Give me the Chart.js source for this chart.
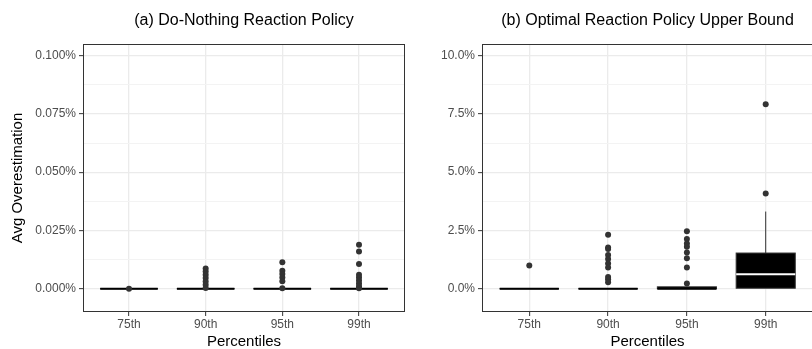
<!DOCTYPE html>
<html><head><meta charset="utf-8">
<script src="https://cdn.jsdelivr.net/npm/chart.js@4.4.1/dist/chart.umd.min.js"></script>
<style>
html,body{margin:0;padding:0;background:#fff;}
#wrap{position:relative;width:812px;height:349px;overflow:hidden;background:#fff;}
canvas{position:absolute;top:0;}
#c1{left:0;width:412px;height:349px;}
#c2{left:412px;width:404px;height:349px;}
</style></head><body>
<div id="wrap"><canvas id="c1" width="412" height="349"></canvas><canvas id="c2" width="404" height="349"></canvas></div>
<script>
// ---- data ----
const categories = ['75th', '90th', '95th', '99th'];

// Panel (a): values in percent
const titleA = '(a) Do-Nothing Reaction Policy';
const ticksA = [0, 0.025, 0.05, 0.075, 0.1];
const minorTicksA = [0.0125, 0.0375, 0.0625, 0.0875];
const q1A = [0, 0, 0, 0];
const medianA = [0, 0, 0, 0];
const q3A = [0, 0, 0, 0];
const whiskerLowA = [0, 0, 0, 0];
const whiskerHighA = [0, 0, 0, 0];
const outliersA = [
  [0],
  [0.0087, 0.0074, 0.0060, 0.0046, 0.0031, 0.0017, 0.0003],
  [0.0113, 0.0077, 0.0063, 0.0048, 0.0032, 0.0002],
  [0.0189, 0.0160, 0.0106, 0.0060, 0.0048, 0.0035, 0.0022, 0.0010, 0.0002]
];

// Panel (b): values in percent
const titleB = '(b) Optimal Reaction Policy Upper Bound';
const ticksB = [0, 2.5, 5, 7.5, 10];
const minorTicksB = [1.25, 3.75, 6.25, 8.75];
const q1B = [0, 0, 0, 0.02];
const medianB = [0, 0, 0, 0.62];
const q3B = [0, 0, 0.08, 1.53];
const whiskerLowB = [0, 0, 0, 0.02];
const whiskerHighB = [0, 0, 0.08, 3.31];
const outliersB = [
  [1.0],
  [2.31, 1.77, 1.70, 1.45, 1.27, 1.08, 0.91, 0.50, 0.41, 0.28],
  [2.46, 2.13, 1.94, 1.80, 1.55, 1.31, 0.91, 0.22],
  [7.92, 4.09]
];

const xLabel = 'Percentiles';
const yLabel = 'Avg Overestimation';

// ---- rendering ----
const FONT = 'Liberation Sans, Arial, Helvetica, sans-serif';

function boxPlugin(stats) {
  return {
    id: 'boxes',
    beforeDatasetsDraw(chart) {
      const {ctx, chartArea: a, scales: {x, y}} = chart;
      const half = (x.getPixelForValue(1) - x.getPixelForValue(0)) * 0.375;
      ctx.save();
      ctx.beginPath(); ctx.rect(a.left, a.top, a.right - a.left, a.bottom - a.top); ctx.clip();
      stats.q1.forEach((_, i) => {
        const cx = x.getPixelForValue(i);
        const y1 = y.getPixelForValue(stats.q1[i]);
        const y3 = y.getPixelForValue(stats.q3[i]);
        const ym = y.getPixelForValue(stats.med[i]);
        const yl = y.getPixelForValue(stats.lo[i]);
        const yh = y.getPixelForValue(stats.hi[i]);
        ctx.strokeStyle = '#333333'; ctx.lineWidth = 1;
        ctx.beginPath();
        ctx.moveTo(cx, y3); ctx.lineTo(cx, yh);
        ctx.moveTo(cx, y1); ctx.lineTo(cx, yl);
        ctx.stroke();
        ctx.fillStyle = '#000000';
        ctx.fillRect(cx - half, y3, 2 * half, y1 - y3);
        ctx.strokeRect(cx - half, y3, 2 * half, y1 - y3);
        const inside = stats.med[i] > stats.q1[i] && stats.med[i] < stats.q3[i];
        ctx.strokeStyle = inside ? '#ffffff' : '#000000';
        ctx.lineWidth = 2;
        ctx.beginPath(); ctx.moveTo(cx - half, ym); ctx.lineTo(cx + half, ym); ctx.stroke();
      });
      ctx.restore();
    },
    afterDatasetsDraw(chart) {
      const {ctx, chartArea: a} = chart;
      ctx.save();
      ctx.strokeStyle = '#333333'; ctx.lineWidth = 1;
      ctx.strokeRect(a.left + 0.5, a.top + 0.5, a.right - a.left - 1, a.bottom - a.top - 1);
      ctx.restore();
    }
  };
}

function makeChart(id, cfg) {
  const points = [];
  cfg.outliers.forEach((arr, i) => arr.forEach(v => points.push({x: i, y: v})));
  const isMinor = v => cfg.minor.includes(v);
  return new Chart(document.getElementById(id), {
    type: 'scatter',
    data: {datasets: [{data: points, backgroundColor: '#333333', borderWidth: 0, pointRadius: 3, pointHoverRadius: 3}]},
    options: {
      responsive: false, animation: false, devicePixelRatio: 1,
      layout: {padding: {left: 0, right: cfg.padRight, top: 0, bottom: 0}},
      plugins: {
        legend: {display: false}, tooltip: {enabled: false},
        title: {display: true, text: cfg.title, fullSize: false, color: '#000',
          font: {family: FONT, size: 16, weight: 'normal', lineHeight: 1.2}, padding: {top: 11, bottom: 13.8}}
      },
      scales: {
        x: {
          type: 'linear', min: -0.6, max: 3.6,
          afterBuildTicks: s => { s.ticks = categories.map((c, i) => ({value: i})); },
          afterFit: s => { s.height = 37; },
          ticks: {callback: v => categories[v] ?? '', color: '#4D4D4D', font: {family: FONT, size: 12},
            padding: 1, autoSkip: false, maxRotation: 0},
          grid: {color: '#EBEBEB', lineWidth: 1.3, tickColor: '#333333', tickWidth: 1, tickLength: 4},
          border: {display: false},
          title: {display: true, text: xLabel, color: '#000', font: {family: FONT, size: 15, lineHeight: 1}, padding: {top: 0, bottom: 0}}
        },
        y: {
          type: 'linear', min: cfg.min, max: cfg.max,
          afterBuildTicks: s => { s.ticks = cfg.major.concat(cfg.minor).sort((a, b) => a - b).map(v => ({value: v})); },
          afterFit: s => { s.width = cfg.yWidth; },
          ticks: {callback: v => isMinor(v) ? '' : v.toFixed(cfg.decimals) + '%', color: '#4D4D4D',
            font: {family: FONT, size: 12}, padding: 3, autoSkip: false},
          grid: {
            color: c => isMinor(c.tick.value) ? '#F3F3F3' : '#EBEBEB',
            lineWidth: c => isMinor(c.tick.value) ? 1 : 1.3,
            tickColor: c => isMinor(c.tick.value) ? 'rgba(0,0,0,0)' : '#333333',
            tickWidth: 1, tickLength: 4
          },
          border: {display: false},
          title: {display: cfg.showYTitle, text: yLabel, color: '#000', font: {family: FONT, size: 15}, padding: {top: 9, bottom: 0}}
        }
      }
    },
    plugins: [boxPlugin(cfg.stats)]
  });
}

makeChart('c1', {
  title: titleA, outliers: outliersA, major: ticksA, minor: minorTicksA, min: -0.01, max: 0.105,
  decimals: 3, yWidth: 83, padRight: 7, showYTitle: true,
  stats: {q1: q1A, med: medianA, q3: q3A, lo: whiskerLowA, hi: whiskerHighA}
});
makeChart('c2', {
  title: titleB, outliers: outliersB, major: ticksB, minor: minorTicksB, min: -1, max: 10.5,
  decimals: 1, yWidth: 70, padRight: 0, showYTitle: false,
  stats: {q1: q1B, med: medianB, q3: q3B, lo: whiskerLowB, hi: whiskerHighB}
});
</script>
</body></html>
